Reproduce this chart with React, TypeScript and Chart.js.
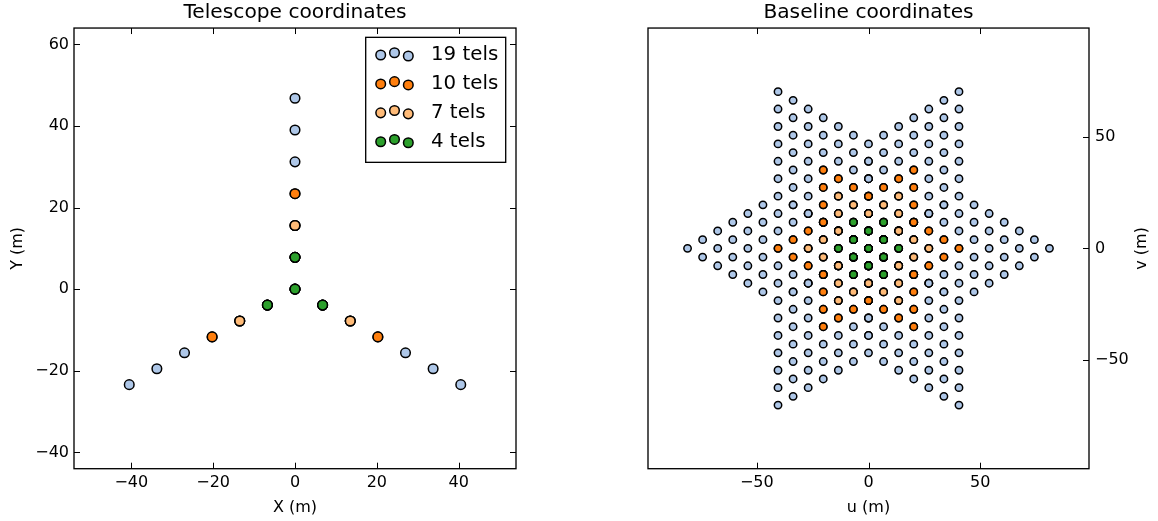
import React, { useEffect, useRef } from 'react';
import { Chart, registerables } from 'chart.js';

Chart.register(...registerables);

// Telescope positions (m)
const telX = [0, 0, -6.75, 6.75, 0, -13.5, 13.5, 0, -20.25, 20.25, 0, -27, 27, 0, -33.75, 33.75, 0, -40.5, 40.5];
const telY = [0, 7.8, -3.9, -3.9, 15.6, -7.8, -7.8, 23.4, -11.7, -11.7, 31.2, -15.6, -15.6, 39, -19.5, -19.5, 46.8, -23.4, -23.4];

// Sub-arrays (first N telescopes)
const subarraySizes = [19, 10, 7, 4];
const subarrayLabels = ['19 tels', '10 tels', '7 tels', '4 tels'];
const subarrayColors = ['#aec7e8', '#ff7f0e', '#ffbb78', '#2ca02c'];

// Tick labels
const xTicks = [-40, -20, 0, 20, 40];
const yTicks = [-40, -20, 0, 20, 40, 60];
const uTicks = [-50, 0, 50];
const vTicks = [-50, 0, 50];

const FONT = "'DejaVu Sans', 'Liberation Sans', sans-serif";
const fmt = (v: number) => (v < 0 ? '\u2212' + Math.abs(v) : String(v));

function telescopePoints(n: number) {
  const pts: { x: number; y: number }[] = [];
  for (let i = 0; i < n; i++) pts.push({ x: telX[i], y: telY[i] });
  return pts;
}

function baselinePoints(n: number) {
  const pts: { x: number; y: number }[] = [];
  for (let i = 0; i < n; i++) {
    for (let j = 0; j < n; j++) {
      pts.push({ x: telX[i] - telX[j], y: telY[i] - telY[j] });
    }
  }
  return pts;
}

function framePlugin(xVals: number[], yVals: number[], ySides: string[], extra?: (chart: any) => void) {
  return {
    id: 'frameTicks',
    afterDraw(chart: any) {
      const { ctx, chartArea: a, scales } = chart;
      const L = 6;
      ctx.save();
      ctx.strokeStyle = '#000';
      ctx.lineWidth = 1;
      ctx.beginPath();
      xVals.forEach((v) => {
        const px = Math.round(scales.x.getPixelForValue(v)) + 0.5;
        ctx.moveTo(px, a.bottom);
        ctx.lineTo(px, a.bottom - L);
        ctx.moveTo(px, a.top);
        ctx.lineTo(px, a.top + L);
      });
      yVals.forEach((v) => {
        const py = Math.round(scales.y.getPixelForValue(v)) + 0.5;
        if (ySides.includes('left')) {
          ctx.moveTo(a.left, py);
          ctx.lineTo(a.left + L, py);
        }
        if (ySides.includes('right')) {
          ctx.moveTo(a.right, py);
          ctx.lineTo(a.right - L, py);
        }
      });
      ctx.stroke();
      ctx.lineWidth = 1.33;
      ctx.strokeRect(a.left, a.top, a.right - a.left, a.bottom - a.top);
      ctx.restore();
      if (extra) extra(chart);
    },
  };
}

const legendPlugin = {
  id: 'telLegend',
  afterDraw(chart: any) {
    const ctx = chart.ctx;
    const a = chart.chartArea;
    const boxL = a.right - 150.3;
    const boxT = a.top + 9.3;
    const boxW = 140;
    const boxH = 125;
    ctx.save();
    ctx.fillStyle = '#fff';
    ctx.fillRect(boxL, boxT, boxW, boxH);
    ctx.strokeStyle = '#000';
    ctx.lineWidth = 1.33;
    ctx.strokeRect(boxL, boxT, boxW, boxH);
    const mx = [15, 28.8, 42.6];
    const my = [0, -2.3, 1];
    subarrayLabels.forEach((label, k) => {
      const cy = boxT + 17.7 + k * 28.9;
      for (let m = 0; m < 3; m++) {
        ctx.beginPath();
        ctx.arc(boxL + mx[m], cy + my[m], 4.8, 0, Math.PI * 2);
        ctx.fillStyle = subarrayColors[k];
        ctx.fill();
        ctx.lineWidth = 1.5;
        ctx.strokeStyle = '#000';
        ctx.stroke();
      }
      ctx.fillStyle = '#000';
      ctx.font = `19.8px ${FONT}`;
      ctx.textAlign = 'left';
      ctx.textBaseline = 'middle';
      ctx.fillText(label, boxL + 65.3, cy);
    });
    ctx.restore();
  },
};

function axisTicks(vals: number[]) {
  return (s: any) => {
    s.ticks = vals.map((v) => ({ value: v }));
  };
}

function TelescopeChart() {
  const ref = useRef<HTMLCanvasElement>(null);
  useEffect(() => {
    const datasets = subarraySizes.map((n, k) => ({
      label: subarrayLabels[k],
      data: telescopePoints(n),
      order: subarraySizes.length - 1 - k,
      pointRadius: 4.8,
      pointBorderWidth: 1.5,
      pointBackgroundColor: subarrayColors[k],
      pointBorderColor: '#000',
      showLine: false,
    }));
    const chart = new Chart(ref.current as HTMLCanvasElement, {
      type: 'scatter',
      data: { datasets },
      options: {
        animation: false,
        responsive: false,
        events: [],
        layout: { padding: { left: 0, right: 63, top: 0, bottom: 0 } },
        plugins: {
          legend: { display: false },
          tooltip: { enabled: false },
          title: {
            display: true,
            text: 'Telescope coordinates',
            fullSize: false,
            color: '#000',
            font: { family: FONT, size: 20.2, weight: 'normal' },
            padding: { top: 0.5, bottom: 3.3 },
          },
        },
        scales: {
          x: {
            type: 'linear',
            min: -54,
            max: 54,
            afterBuildTicks: axisTicks(xTicks),
            afterFit: (s: any) => {
              s.height = 52.3;
            },
            grid: { display: false, drawTicks: false },
            border: { display: false },
            ticks: {
              color: '#000',
              font: { family: FONT, size: 16 },
              padding: 5,
              maxRotation: 0,
              callback: (v: any) => fmt(Number(v)),
            },
            title: {
              display: true,
              text: 'X (m)',
              color: '#000',
              font: { family: FONT, size: 16 },
              padding: { top: 0, bottom: 3.6 },
            },
          },
          y: {
            type: 'linear',
            min: -44,
            max: 64,
            afterBuildTicks: axisTicks(yTicks),
            afterFit: (s: any) => {
              s.width = 74;
            },
            grid: { display: false, drawTicks: false },
            border: { display: false },
            ticks: {
              color: '#000',
              font: { family: FONT, size: 16 },
              padding: 5,
              callback: (v: any) => fmt(Number(v)),
            },
            title: {
              display: true,
              text: 'Y (m)',
              color: '#000',
              font: { family: FONT, size: 16 },
              padding: { top: 8.7, bottom: 0 },
            },
          },
        },
      } as any,
      plugins: [framePlugin(xTicks, yTicks, ['left', 'right']), legendPlugin],
    });
    return () => chart.destroy();
  }, []);
  return (
    <canvas
      ref={ref}
      width={579}
      height={521}
      style={{ position: 'absolute', left: 0, top: 0, width: 579, height: 521, display: 'block' }}
    />
  );
}

function BaselineChart() {
  const ref = useRef<HTMLCanvasElement>(null);
  useEffect(() => {
    const datasets = subarraySizes.map((n, k) => ({
      label: subarrayLabels[k],
      data: baselinePoints(n),
      order: subarraySizes.length - 1 - k,
      pointRadius: 3.7,
      pointBorderWidth: 1.5,
      pointBackgroundColor: subarrayColors[k],
      pointBorderColor: '#000',
      showLine: false,
    }));
    const drawVLabel = (chart: any) => {
      const ctx = chart.ctx;
      const a = chart.chartArea;
      ctx.save();
      ctx.translate(a.right + 52.7, (a.top + a.bottom) / 2);
      ctx.rotate(-Math.PI / 2);
      ctx.fillStyle = '#000';
      ctx.font = `16px ${FONT}`;
      ctx.textAlign = 'center';
      ctx.textBaseline = 'middle';
      ctx.fillText('v (m)', 0, 0);
      ctx.restore();
    };
    const chart = new Chart(ref.current as HTMLCanvasElement, {
      type: 'scatter',
      data: { datasets },
      options: {
        animation: false,
        responsive: false,
        events: [],
        layout: { padding: { left: 69, right: 0, top: 0, bottom: 0 } },
        plugins: {
          legend: { display: false },
          tooltip: { enabled: false },
          title: {
            display: true,
            text: 'Baseline coordinates',
            fullSize: false,
            color: '#000',
            font: { family: FONT, size: 20.2, weight: 'normal' },
            padding: { top: 0.5, bottom: 3.3 },
          },
        },
        scales: {
          x: {
            type: 'linear',
            min: -98.7,
            max: 98.7,
            afterBuildTicks: axisTicks(uTicks),
            afterFit: (s: any) => {
              s.height = 52.3;
            },
            grid: { display: false, drawTicks: false },
            border: { display: false },
            ticks: {
              color: '#000',
              font: { family: FONT, size: 16 },
              padding: 5,
              maxRotation: 0,
              callback: (v: any) => fmt(Number(v)),
            },
            title: {
              display: true,
              text: 'u (m)',
              color: '#000',
              font: { family: FONT, size: 16 },
              padding: { top: 0, bottom: 3.6 },
            },
          },
          y: {
            type: 'linear',
            position: 'right',
            min: -98.7,
            max: 98.7,
            afterBuildTicks: axisTicks(vTicks),
            afterFit: (s: any) => {
              s.width = 69;
            },
            grid: { display: false, drawTicks: false },
            border: { display: false },
            ticks: {
              color: '#000',
              font: { family: FONT, size: 16 },
              padding: 6,
              callback: (v: any) => fmt(Number(v)),
            },
            title: { display: false },
          },
        },
      } as any,
      plugins: [framePlugin(uTicks, vTicks, ['right'], drawVLabel)],
    });
    return () => chart.destroy();
  }, []);
  return (
    <canvas
      ref={ref}
      width={579}
      height={521}
      style={{ position: 'absolute', left: 579, top: 0, width: 579, height: 521, display: 'block' }}
    />
  );
}

export default function App() {
  return (
    <div
      style={{
        position: 'fixed',
        left: 0,
        top: 0,
        width: 1158,
        height: 521,
        background: '#fff',
        overflow: 'hidden',
      }}
    >
      <TelescopeChart />
      <BaselineChart />
    </div>
  );
}
